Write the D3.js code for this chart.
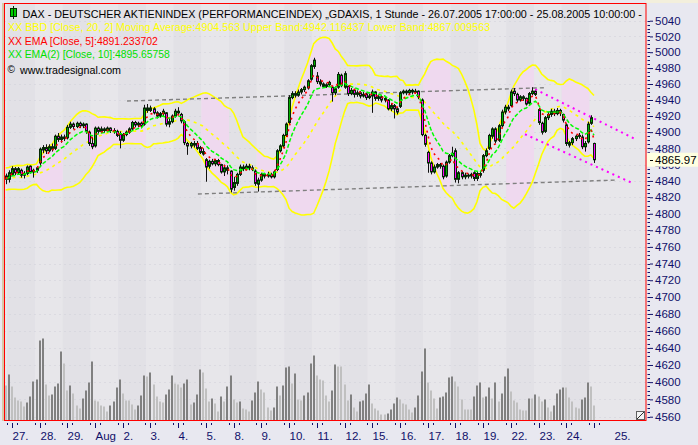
<!DOCTYPE html>
<html><head><meta charset="utf-8">
<script src="https://cdn.jsdelivr.net/npm/d3@7"></script>
<style>body{margin:0;background:#e8e8f0;overflow:hidden} svg{display:block}</style>
</head><body><svg id="c" width="698" height="445"></svg>
<script>
// ---------- DATA ----------
const dayLabels = ["27.","28.","29.","Aug","2.","3.","4.","5.","8.","9.","10.","11.","12.","15.","16.","17.","18.","19.","22.","23.","24.","25."];
const yTickValues = [4560,4580,4600,4620,4640,4660,4680,4700,4720,4740,4760,4780,4800,4820,4840,4860,4880,4900,4920,4940,4960,4980,5000,5020,5040];
const lastPrice = 4865.97;
// closes before the first visible bar (indicator warm-up only)
const warmupClose = [4835,4838,4846,4852,4849,4841,4833,4830,4836,4844,4850,4855,4848,4840,4834,4837,4845,4848,4843];
const openP = [4846,4842,4848,4855,4850,4853,4847,4849,4858,4851,
4853,4862,4878,4881,4877,4882,4880,4895,4891,4894,
4893,4906,4910,4907,4911,4908,4910,4900,4886,4883,
4905,4901,4904,4902,4905,4902,4901,4898,4890,4897,
4900,4904,4912,4909,4911,4910,4930,4927,4929,4924,
4920,4923,4924,4910,4913,4920,4926,4922,4913,4886,
4883,4886,4886,4881,4876,4866,4858,4864,4861,4865,
4860,4851,4856,4852,4832,4837,4848,4857,4855,4858,
4856,4852,4836,4841,4848,4846,4848,4845,4854,4877,
4883,4896,4912,4943,4948,4946,4950,4953,4955,4966,
4982,4970,4963,4960,4957,4959,4956,4949,4956,4971,
4956,4957,4948,4952,4947,4949,4945,4947,4943,4945,
4950,4942,4944,4940,4940,4929,4933,4929,4932,4949,
4951,4949,4952,4950,4951,4940,4896,4875,4862,4851,
4857,4860,4858,4846,4863,4871,4877,4842,4850,4845,
4847,4846,4850,4843,4849,4853,4871,4880,4895,4904,
4890,4908,4925,4931,4933,4951,4947,4940,4944,4942,
4936,4948,4951,4928,4911,4901,4918,4922,4926,4923,
4927,4922,4909,4884,4887,4892,4895,4894,4882,4888,
4911,4886];
const highP = [4849,4853,4858,4857,4857,4855,4852,4859,4859,4855,
4858,4881,4884,4885,4885,4886,4897,4899,4897,4897,
4909,4913,4912,4913,4913,4912,4911,4902,4894,4907,
4907,4907,4906,4907,4906,4905,4903,4901,4899,4902,
4906,4914,4914,4913,4913,4934,4935,4933,4931,4926,
4925,4929,4925,4918,4922,4929,4931,4924,4915,4888,
4888,4889,4889,4883,4880,4868,4866,4867,4867,4867,
4861,4860,4859,4853,4845,4850,4860,4860,4861,4861,
4859,4854,4844,4850,4850,4851,4850,4853,4879,4885,
4898,4912,4946,4951,4951,4953,4955,4958,4966,4985,
4993,4975,4966,4962,4961,4964,4957,4957,4975,4973,
4976,4958,4955,4954,4952,4951,4950,4949,4948,4953,
4951,4946,4946,4944,4941,4936,4935,4931,4951,4953,
4953,4954,4954,4954,4952,4942,4898,4877,4864,4860,
4862,4862,4860,4865,4873,4882,4880,4852,4852,4850,
4849,4850,4852,4852,4852,4873,4880,4898,4906,4906,
4910,4928,4934,4934,4953,4955,4949,4946,4946,4943,
4950,4956,4953,4930,4913,4920,4925,4929,4929,4930,
4929,4923,4911,4889,4894,4897,4899,4897,4889,4913,
4921,4887];
const lowP = [4836,4838,4846,4847,4848,4844,4843,4847,4849,4844,
4850,4858,4874,4873,4875,4876,4878,4888,4887,4889,
4891,4904,4904,4905,4905,4905,4898,4883,4879,4881,
4898,4899,4899,4900,4899,4898,4894,4880,4888,4895,
4898,4902,4906,4906,4905,4908,4924,4925,4922,4917,
4918,4920,4907,4906,4911,4918,4921,4911,4884,4872,
4880,4881,4878,4873,4871,4839,4855,4859,4858,4858,
4849,4846,4848,4826,4828,4834,4846,4852,4853,4853,
4852,4834,4827,4839,4843,4844,4843,4843,4852,4875,
4881,4894,4910,4941,4943,4944,4947,4950,4953,4964,
4979,4960,4957,4955,4955,4956,4938,4946,4954,4956,
4954,4945,4946,4943,4944,4942,4943,4940,4941,4924,
4939,4939,4937,4937,4927,4926,4917,4922,4930,4947,
4946,4947,4947,4948,4941,4895,4882,4850,4848,4849,
4855,4855,4842,4844,4861,4869,4838,4837,4842,4842,
4843,4843,4840,4840,4844,4850,4869,4878,4892,4886,
4888,4906,4922,4926,4931,4945,4937,4938,4939,4933,
4934,4946,4945,4909,4897,4899,4915,4919,4920,4921,
4920,4912,4883,4881,4884,4889,4892,4879,4876,4886,
4909,4862];
const closeP = [4842,4850,4855,4850,4855,4847,4849,4857,4851,4853,
4856,4879,4881,4877,4882,4879,4895,4891,4894,4892,
4906,4910,4907,4911,4908,4910,4901,4886,4882,4905,
4901,4904,4902,4905,4902,4901,4896,4890,4897,4900,
4904,4912,4909,4911,4908,4930,4927,4930,4924,4920,
4923,4926,4910,4913,4920,4926,4924,4914,4887,4883,
4886,4884,4880,4875,4873,4857,4864,4861,4865,4860,
4851,4856,4853,4830,4838,4848,4857,4855,4858,4856,
4855,4837,4841,4848,4846,4848,4845,4851,4877,4883,
4896,4910,4943,4948,4946,4950,4953,4956,4964,4983,
4990,4963,4960,4957,4959,4962,4949,4954,4972,4958,
4973,4948,4952,4947,4949,4945,4947,4943,4945,4950,
4942,4944,4940,4942,4929,4933,4929,4925,4949,4951,
4949,4952,4950,4951,4944,4897,4885,4862,4851,4857,
4860,4858,4845,4863,4871,4874,4842,4850,4845,4847,
4846,4848,4843,4849,4847,4871,4877,4896,4904,4889,
4908,4925,4931,4929,4950,4948,4940,4944,4942,4935,
4948,4951,4947,4912,4900,4918,4922,4926,4923,4927,
4924,4915,4886,4887,4892,4895,4896,4882,4886,4910,
4918,4865.97];
const volume = [105,138,102,69,60,57,42,54,72,117,
123,240,246,108,75,78,102,111,207,171,
90,105,81,45,36,66,90,114,177,60,
57,45,42,27,45,57,99,123,81,60,
60,48,33,45,75,135,132,144,108,72,
57,54,78,93,135,111,108,99,111,123,
48,54,78,153,144,96,57,66,51,27,
72,57,102,135,63,54,57,36,33,27,
60,84,117,93,84,39,30,39,102,75,
105,159,162,111,141,63,60,75,84,171,
195,135,123,120,75,57,90,168,162,162,
108,60,78,39,27,57,60,81,108,51,
36,30,18,18,21,33,51,69,63,51,
48,33,24,39,75,147,216,114,90,66,
36,69,72,84,129,132,117,102,63,33,
33,33,72,105,114,69,72,99,66,114,
57,81,132,156,87,60,54,33,30,30,
66,66,78,72,57,63,39,27,45,81,
93,99,99,69,57,39,36,63,69,114,
102,45];
// days (index into dayLabels) on which the band area is tinted
const tintedDays = [1,3,4,7,9,10,11,15,18,20];
// drawn trend lines: [barIndex, price] endpoints
const greyLines = [[[39.4,4938.7],[175,4955.4]], [[62.4,4824.0],[198.5,4841.1]]];
const channelLines = [[[171.9,4953.4],[204.3,4891.6]], [[168.6,4897.4],[203.2,4837.8]]];

// ---------- SCALES ----------
const barsPerDay = 9;
const n = closeP.length;
const x = d3.scaleLinear().domain([0, n-1]).range([5.7, 594]);
const y = d3.scaleLog().domain([4560, 5040]).range([416.7, 20.7]);
const yv = d3.scaleLinear().domain([0, 300]).range([420.5, 320.5]);
const P = {l:4.5, t:3.5, r:646, b:420.5};
const half = (x(1)-x(0))/2;
const dayFirst = d => 1 + barsPerDay*d;

// ---------- INDICATORS ----------
const all = warmupClose.concat(closeP);
const off = warmupClose.length;
function ema(len){ const a=2/(len+1); let e=all[0]; const out=[]; all.forEach((v,i)=>{ e = i===0? v : a*v+(1-a)*e; if(i>=off) out.push(e);}); return out; }
const ema5 = ema(5), ema10 = ema(10);
const bbMid=[], bbUp=[], bbLo=[];
for(let i=0;i<n;i++){ const w=all.slice(i+off-19, i+off+1); const m=d3.mean(w); const sd=Math.sqrt(d3.mean(w,v=>(v-m)*(v-m))); bbMid.push(m); bbUp.push(m+2*sd); bbLo.push(m-2*sd); }

// ---------- DRAW ----------
const svg = d3.select('#c');
svg.append('rect').attr('width',698).attr('height',445).attr('fill','#e8e8f0');
svg.append('rect').attr('x',646).attr('y',0).attr('width',52).attr('height',3).attr('fill','#f3efdc');
const defs = svg.append('defs');
defs.append('clipPath').attr('id','plotClip').append('rect').attr('x',P.l).attr('y',P.t).attr('width',P.r-P.l).attr('height',P.b-P.t);
const tintClip = defs.append('clipPath').attr('id','tintClip');
tintedDays.forEach(d=>{ const a=dayFirst(d), b=Math.min(a+barsPerDay-1, n-1);
  tintClip.append('rect').attr('x',x(a)-half).attr('y',0).attr('width',x(b)-x(a)+2*half).attr('height',445); });

const g = svg.append('g').attr('clip-path','url(#plotClip)');
g.append('rect').attr('x',P.l).attr('y',P.t).attr('width',P.r-P.l).attr('height',P.b-P.t).attr('fill','#e5e4e9');
// day stripes
const stripes = [{a:0,b:0,k:1}].concat(dayLabels.map((l,d)=>({a:dayFirst(d), b:Math.min(dayFirst(d)+barsPerDay-1,n-1), k:d%2})));
g.selectAll('rect.stripe').data(stripes).join('rect').attr('class','stripe')
 .attr('x',s=>x(s.a)-half).attr('y',P.t).attr('width',(s,i)=> i===stripes.length-1 ? P.r-(x(s.a)-half) : x(s.b)-x(s.a)+2*half)
 .attr('height',P.b-P.t).attr('fill',s=>s.k? '#e7e6ea':'#e2e1e6');
// grid
g.selectAll('line.grid').data(yTickValues).join('line').attr('class','grid')
 .attr('x1',P.l).attr('x2',P.r).attr('y1',v=>Math.round(y(v))+0.5).attr('y2',v=>Math.round(y(v))+0.5)
 .attr('stroke','#cfcfd8').attr('stroke-dasharray','1,4');
// tinted band area
const idx = d3.range(n);
g.append('path').datum(idx).attr('clip-path','url(#tintClip)')
 .attr('d', d3.area().x(i=>x(i)).y0(i=>y(bbLo[i])).y1(i=>y(bbUp[i]))).attr('fill','#efd9ef');
// volume
g.selectAll('rect.vol').data(idx).join('rect').attr('class','vol')
 .attr('x',i=>Math.round(x(i))-1).attr('width',2).attr('y',i=>yv(volume[i])).attr('height',i=>yv(0)-yv(volume[i]))
 .attr('fill',i=> i>0 && volume[i]>volume[i-1] ? '#808080' : '#c0c0c0');
// bollinger
const line = arr => d3.line().x(i=>x(i)).y(i=>y(arr[i]));
g.append('path').datum(idx).attr('d',line(bbUp)).attr('fill','none').attr('stroke','#ffff00').attr('stroke-width',1.6);
g.append('path').datum(idx).attr('d',line(bbLo)).attr('fill','none').attr('stroke','#ffff00').attr('stroke-width',1.6);
g.append('path').datum(idx).attr('d',line(bbMid)).attr('fill','none').attr('stroke','#ffff00').attr('stroke-width',1.6).attr('stroke-dasharray','3,4');
// trend lines
greyLines.forEach(L=> g.append('line').attr('x1',x(L[0][0])).attr('y1',y(L[0][1])).attr('x2',x(L[1][0])).attr('y2',y(L[1][1]))
 .attr('stroke','#808080').attr('stroke-width',1.4).attr('stroke-dasharray','4,3'));
// candles
const cg = g.append('g');
cg.selectAll('line.wick').data(idx).join('line').attr('class','wick')
 .attr('x1',i=>Math.round(x(i))+0.5).attr('x2',i=>Math.round(x(i))+0.5).attr('y1',i=>y(highP[i])).attr('y2',i=>y(lowP[i]))
 .attr('stroke','#101010').attr('stroke-width',1);
cg.selectAll('rect.body').data(idx).join('rect').attr('class','body')
 .attr('x',i=>Math.round(x(i))-0.5).attr('width',2)
 .attr('y',i=>y(Math.max(openP[i],closeP[i]))).attr('height',i=>Math.max(1,Math.abs(y(openP[i])-y(closeP[i]))))
 .attr('fill',i=>closeP[i]>=openP[i]?'#00b000':'#ff00ff').attr('stroke','#052805').attr('stroke-width',1);
// EMAs
g.append('path').datum(idx).attr('d',line(ema10)).attr('fill','none').attr('stroke','#00ff00').attr('stroke-width',1.5).attr('stroke-dasharray','4,2');
g.append('path').datum(idx).attr('d',line(ema5)).attr('fill','none').attr('stroke','#ff0000').attr('stroke-width',1.6).attr('stroke-dasharray','2,4');
// channel lines
channelLines.forEach(L=> g.append('line').attr('x1',x(L[0][0])).attr('y1',y(L[0][1])).attr('x2',x(L[1][0])).attr('y2',y(L[1][1]))
 .attr('stroke','#ff00ff').attr('stroke-width',2).attr('stroke-dasharray','2,4'));

// border
svg.append('line').attr('x1',3).attr('x2',3).attr('y1',3).attr('y2',421).attr('stroke','#c8a860');
svg.append('rect').attr('x',P.l).attr('y',P.t).attr('width',P.r-P.l).attr('height',P.b-P.t).attr('fill','none').attr('stroke','#ff0000').attr('stroke-width',1);
// resize corner
svg.append('rect').attr('x',636.5).attr('y',411.5).attr('width',8).attr('height',8).attr('fill','#f4f4f4').attr('stroke','#606060');
svg.append('line').attr('x1',637).attr('y1',419).attr('x2',644).attr('y2',412).attr('stroke','#303030');

// ---------- AXES ----------
const font = "'Liberation Sans', Arial, sans-serif";
const axisCol = '#10106a';
const minorTicks = d3.range(4560,5041,5);
svg.append('g').selectAll('line').data(minorTicks).join('line')
 .attr('x1',647.5).attr('x2',650).attr('y1',v=>Math.round(y(v))+0.5).attr('y2',v=>Math.round(y(v))+0.5).attr('stroke',axisCol);
const yAx = d3.axisRight(y).tickValues(yTickValues).tickSize(3).tickPadding(2).tickFormat(d3.format('d'));
const yg = svg.append('g').attr('transform','translate(650,0)').call(yAx);
yg.select('.domain').remove();
yg.selectAll('line').attr('stroke',axisCol);
yg.selectAll('text').attr('font-family',font).attr('font-size','11.5px').attr('fill',axisCol);
// last price box
const ly = y(lastPrice);
svg.append('rect').attr('x',647).attr('y',ly-7).attr('width',51).attr('height',14).attr('fill','#ffffe1');
svg.append('line').attr('x1',650).attr('x2',653).attr('y1',Math.round(ly)+0.5).attr('y2',Math.round(ly)+0.5).attr('stroke','#000');
svg.append('text').attr('x',655).attr('y',ly+4).attr('font-family',font).attr('font-size','11.5px').attr('fill','#000').text(d3.format('.2f')(lastPrice));

// x axis
const xg = svg.append('g');
dayLabels.forEach((lab,d)=>{
  const tx = Math.round(x(dayFirst(d)+1))+0.5;
  xg.append('line').attr('x1',tx).attr('x2',tx).attr('y1',423).attr('y2',428).attr('stroke',axisCol);
  [-5,5].forEach(o=> xg.append('line').attr('x1',tx+o).attr('x2',tx+o).attr('y1',423).attr('y2',425).attr('stroke',axisCol));
  const last = d===dayLabels.length-1;
  xg.append('text').attr('x', last? tx+20 : tx).attr('y',440).attr('font-family',font).attr('font-size','11.5px').attr('fill',axisCol).text(lab);
});

// ---------- LEGEND ----------
const leg = svg.append('g').attr('font-family',font);
leg.append('rect').attr('x',10.5).attr('y',8.5).attr('width',6).attr('height',8).attr('fill','#00d000').attr('stroke','#003000');
leg.append('line').attr('x1',13.5).attr('x2',13.5).attr('y1',6).attr('y2',19).attr('stroke','#003000');
const legendLines = [
 {t:'DAX  - DEUTSCHER AKTIENINDEX (PERFORMANCEINDEX) \u201EGDAXIS, 1 Stunde - 26.07.2005 17:00:00 - 25.08.2005 10:00:00 -', x:22.5, y:17.5, w:620, c:'#000'},
 {t:'XX BBD [Close, 20, 2] Moving Average:4904.563 Upper Band:4942.116437 Lower Band:4867.009563', x:8, y:30.5, w:482, c:'#ffff00'},
 {t:'XX EMA [Close, 5]:4891.233702', x:8, y:45, w:150, c:'#ff0000'},
 {t:'XX EMA(2) [Close, 10]:4895.65758', x:8, y:57.5, w:162, c:'#00e000'},
 {t:'www.tradesignal.com', x:20, y:74, w:101, c:'#000'}
];
legendLines.forEach(L=>{
  const t = leg.append('text').attr('x',L.x).attr('y',L.y).attr('fill',L.c).attr('font-size','11.5px').text(L.t);
  // fit the natural width of the text to the width it has in the picture
  const nat = t.node().getComputedTextLength();
  if (nat > 0) t.attr('font-size', (11.5*L.w/nat).toFixed(2)+'px');
});
leg.append('text').attr('x',7.5).attr('y',73).attr('fill','#000').attr('font-size','10px').text('\u00A9');
</script></body></html>
